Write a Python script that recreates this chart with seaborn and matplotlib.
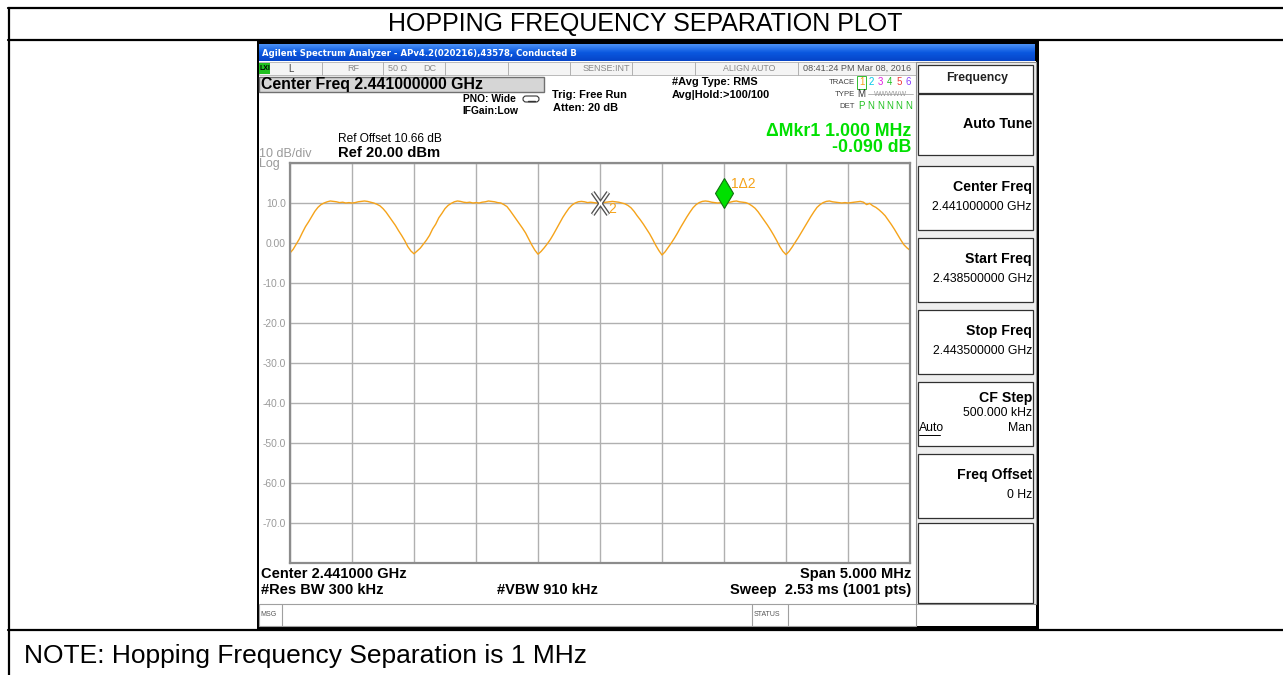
import numpy as np
import pandas as pd
import matplotlib
matplotlib.use("Agg")
import matplotlib.pyplot as plt
import matplotlib.patches as mpatches
import matplotlib.transforms as mtransforms
from matplotlib.path import Path
import seaborn as sns

# sweep settings
START_GHZ = 2.4385
STOP_GHZ = 2.4435
REF_DBM = 20.0
DB_PER_DIV = 10.0

# trace 1 (dBm), read every 25 kHz, one hop channel per list
hump_1 = [-2.5, -1.6, -0.3, 1.0, 2.6, 4.1, 5.3, 6.6, 7.9, 8.9,
          9.6, 10.0, 10.3, 10.5, 10.4, 10.3, 10.1, 10.2, 10.0, 10.1,
          10.0, 10.1, 10.3, 10.4, 10.5, 10.4, 10.2, 10.0, 9.7, 9.3,
          8.6, 7.7, 6.6, 5.5, 4.4, 3.1, 1.9, 0.6, -0.9, -2.0]
hump_2 = [-2.7, -2.0, -1.3, -0.3, 0.7, 1.9, 3.5, 4.7, 6.3, 7.4,
          8.6, 9.4, 9.9, 10.3, 10.5, 10.4, 10.2, 10.1, 10.2, 10.0,
          10.1, 10.0, 10.2, 10.3, 10.5, 10.4, 10.3, 10.1, 10.0, 9.6,
          9.1, 8.1, 7.0, 5.9, 4.8, 3.7, 2.5, 1.0, -0.5, -1.8]
hump_3 = [-2.8, -2.1, -1.2, -0.2, 0.9, 2.2, 3.6, 5.0, 6.4, 7.6,
          8.7, 9.5, 10.0, 10.3, 10.4, 10.3, 10.1, 10.2, 10.1, 10.0,
          10.1, 10.1, 10.2, 10.3, 10.4, 10.3, 10.2, 10.0, 9.8, 9.4,
          8.8, 7.9, 6.8, 5.8, 4.7, 3.5, 2.3, 0.9, -0.6, -1.9]
hump_4 = [-3.0, -2.2, -1.1, 0.0, 1.2, 2.5, 3.9, 5.2, 6.5, 7.7,
          8.8, 9.6, 10.1, 10.4, 10.5, 10.4, 10.2, 10.1, 10.0, 10.1,
          10.0, 10.0, 10.2, 10.4, 10.5, 10.3, 10.2, 10.1, 9.8, 9.3,
          8.7, 7.8, 6.7, 5.6, 4.5, 3.3, 2.0, 0.6, -0.9, -2.1]
hump_5 = [-2.9, -2.1, -1.0, 0.2, 1.4, 2.7, 4.0, 5.3, 6.6, 7.8,
          8.9, 9.6, 10.1, 10.4, 10.5, 10.3, 10.2, 10.1, 10.0, 10.1,
          10.0, 10.1, 10.2, 10.3, 10.4, 10.2, 9.6, 9.9, 9.3, 8.9,
          8.3, 7.6, 6.8, 5.7, 4.6, 3.4, 2.1, 0.8, -0.4, -1.2, -1.8]
trace_dbm = hump_1 + hump_2 + hump_3 + hump_4 + hump_5

# marker 1 (delta) and marker 2 (reference)
marker_freqs = [2.442, 2.441]
y_tick_values = [20, 10, 0, -10, -20, -30, -40, -50, -60, -70, -80]
y_tick_labels = ["", "10.0", "0.00", "-10.0", "-20.0", "-30.0", "-40.0",
                 "-50.0", "-60.0", "-70.0", ""]

softkeys = [("Center Freq", "2.441000000 GHz"),
            ("Start Freq", "2.438500000 GHz"),
            ("Stop Freq", "2.443500000 GHz"),
            ("CF Step", "500.000 kHz"),
            ("Freq Offset", "0 Hz")]

TRACE_COL = "#f5a31a"
MKR_GREEN = "#00e000"
GRAY_TXT = "#9a9a9a"

sns.set_theme(style="white")
plt.rcParams["font.family"] = ["Liberation Sans", "DejaVu Sans"]

W, H = 1283, 675
fig = plt.figure(figsize=(W / 100, H / 100), dpi=100)
bg = fig.add_axes([0, 0, 1, 1])
bg.set_xlim(0, W)
bg.set_ylim(H, 0)
bg.axis("off")


def box(x0, y0, x1, y1, fc="white", ec="none", lw=0.0, z=1):
    bg.add_patch(mpatches.Rectangle((x0, y0), x1 - x0, y1 - y0, facecolor=fc,
                                    edgecolor=ec, linewidth=lw, zorder=z))


def txt(x, y, s, size, ha="left", color="black", weight="normal", family=None, z=5):
    bg.text(x, y, s, fontsize=size, ha=ha, va="center", color=color,
            fontweight=weight, family=family or ["Liberation Sans", "DejaVu Sans"],
            zorder=z)


# outer report table
LW = 1.6
bg.plot([8, W], [8, 8], color="black", lw=LW)
bg.plot([8, W], [40, 40], color="black", lw=LW)
bg.plot([8, W], [630, 630], color="black", lw=LW)
bg.plot([9, 9], [8, H], color="black", lw=LW)
txt(645, 24, "HOPPING FREQUENCY SEPARATION PLOT", 18)
bg.texts[-1].set_ha("center")
txt(24, 656, "NOTE: Hopping Frequency Separation is 1 MHz", 19)

# analyzer screenshot frame
box(257, 41, 1039, 630, fc="black", z=1)
grad = np.linspace(0, 1, 20).reshape(-1, 1)
bar_cmap = matplotlib.colors.LinearSegmentedColormap.from_list(
    "bar", ["#4a90f5", "#0a58e0", "#0645c8"])
bg.imshow(grad, extent=(259, 1035, 61, 44), cmap=bar_cmap, aspect="auto", zorder=2)
txt(262, 53, "Agilent Spectrum Analyzer - APv4.2(020216),43578, Conducted B", 6.1,
    color="white", weight="bold", family=["DejaVu Sans"], z=3)
box(259, 61, 1036, 626, fc="white", z=2)

# status row
box(259, 62, 916, 75, fc="#f4f4f4", ec="#b0b0b0", lw=0.6, z=3)
for xs in [322, 383, 445, 508, 570, 632, 695, 798]:
    bg.plot([xs, xs], [62, 75], color="#b0b0b0", lw=0.7, zorder=4)
box(259, 63, 270, 74, fc="#20c020", z=4)
txt(260, 68.5, "LXI", 5, weight="bold", z=5)
txt(288, 68.5, "L", 7, color="#444444")
txt(347, 68.5, "RF", 6.5, color="#888888")
txt(388, 68.5, "50 \u03a9", 6.5, color="#888888")
txt(423, 68.5, "DC", 6.5, color="#888888")
txt(630, 68.5, "SENSE:INT", 6.5, ha="right", color="#888888")
txt(723, 68.5, "ALIGN AUTO", 6.3, color="#888888")
txt(803, 68.5, "08:41:24 PM Mar 08, 2016", 6.6, color="#555555")

# settings header
box(259, 77, 544, 92, fc="#d6d6d6", ec="#707070", lw=1.0, z=3)
txt(261, 84.5, "Center Freq 2.441000000 GHz", 11.4, weight="bold")
txt(463, 99, "PNO: Wide", 7.4, weight="bold")
txt(462, 111, "IFGain:Low", 7.4, weight="bold")
bg.add_patch(mpatches.FancyBboxPatch((523, 96), 16, 6, boxstyle="round,pad=0,rounding_size=3",
                                     fc="white", ec="#333333", lw=0.8, zorder=4))
bg.plot([528, 535], [101, 101], color="#333333", lw=1.0, zorder=5)
txt(552, 95, "Trig: Free Run", 7.9, weight="bold")
txt(553, 108, "Atten: 20 dB", 7.9, weight="bold")
txt(672, 82, "#Avg Type: RMS", 7.9, weight="bold")
txt(672, 95, "Avg|Hold:>100/100", 7.9, weight="bold")

# trace legend block
txt(855, 82, "TRACE", 5.6, ha="right", color="#444444")
txt(855, 94, "TYPE", 5.6, ha="right", color="#444444")
txt(855, 106, "DET", 5.6, ha="right", color="#444444")
box(857, 76, 866, 89, fc="white", ec="#30c030", lw=0.7, z=4)
trace_cols = [TRACE_COL, "#00c8e8", "#e020e0", "#20c020", "#f03838", "#8a40ff"]
for i, c in enumerate(trace_cols):
    txt(861.5 + i * 9.4, 82, str(i + 1), 7, ha="center", color=c)
txt(861.5, 94, "M", 7, ha="center", color="#333333")
txt(891, 94, "WWWWW", 5, ha="center", color="#999999")
bg.plot([868, 913], [94, 94], color="#999999", lw=0.5, zorder=6)
for i, s in enumerate(["P", "N", "N", "N", "N", "N"]):
    txt(861.5 + i * 9.4, 106, s, 7, ha="center", color="#20c020")

# marker readout and reference
txt(911, 131, "\u0394Mkr1 1.000 MHz", 12.8, ha="right", color=MKR_GREEN, weight="bold")
txt(911, 148, "-0.090 dB", 12.8, ha="right", color=MKR_GREEN, weight="bold")
txt(338, 139, "Ref Offset 10.66 dB", 8.6)
txt(338, 153, "Ref 20.00 dBm", 10.6, weight="bold")
txt(259, 154, "10 dB/div", 9, color=GRAY_TXT)
txt(259, 164, "Log", 9, color=GRAY_TXT)

# bottom annotations
txt(261, 574, "Center 2.441000 GHz", 10.5, weight="bold")
txt(911, 574, "Span 5.000 MHz", 10.5, ha="right", weight="bold")
txt(261, 590, "#Res BW 300 kHz", 10.5, weight="bold")
txt(497, 590, "#VBW 910 kHz", 10.5, weight="bold")
txt(911, 590, "Sweep  2.53 ms (1001 pts)", 10.5, ha="right", weight="bold")

# message bar
box(259, 604, 916, 626, fc="white", ec="#a0a0a0", lw=0.8, z=3)
for xs in [282, 752, 788]:
    bg.plot([xs, xs], [604, 626], color="#a0a0a0", lw=0.8, zorder=4)
txt(260, 614, "MSG", 5, color="#555555")
txt(754, 614, "STATUS", 5, color="#555555")

# softkey panel
box(916, 62, 1036, 604, fc="#eeeeee", ec="#909090", lw=0.8, z=3)
box(918, 65, 1033, 93, fc="white", ec="#303030", lw=0.9, z=4)
txt(977, 78, "Frequency", 8.8, ha="center", weight="bold", color="#222222")
box(918, 94, 1033, 155, fc="white", ec="#303030", lw=0.9, z=4)
txt(1032, 124, "Auto Tune", 10.3, ha="right", weight="bold")
key_tops = [166, 238, 310, 382, 454]
for (title, val), top in zip(softkeys, key_tops):
    box(918, top, 1033, top + 64, fc="white", ec="#303030", lw=0.9, z=4)
    if title == "CF Step":
        txt(1032, top + 16, title, 10.2, ha="right", weight="bold")
        txt(1032, top + 31, val, 8.8, ha="right")
        txt(919, top + 46, "Auto", 8.8)
        bg.plot([919, 940], [top + 53, top + 53], color="black", lw=0.7, zorder=6)
        txt(1032, top + 46, "Man", 8.8, ha="right")
    else:
        txt(1032, top + 21, title, 10.2, ha="right", weight="bold")
        txt(1032, top + 41, val, 8.8, ha="right")
box(918, 523, 1033, 603, fc="white", ec="#303030", lw=0.9, z=4)

# spectrum plot
ax = fig.add_axes([290 / W, 1 - 563 / H, 620 / W, 400 / H])
ax.set_zorder(10)
freq_ghz = np.linspace(START_GHZ, STOP_GHZ, len(trace_dbm))
df = pd.DataFrame({"freq": freq_ghz, "dbm": trace_dbm})
sns.lineplot(data=df, x="freq", y="dbm", ax=ax, color=TRACE_COL, linewidth=1.0)

ax.set_xlim(START_GHZ, STOP_GHZ)
ax.set_ylim(REF_DBM - 10 * DB_PER_DIV, REF_DBM)
ax.set_xticks(np.linspace(START_GHZ, STOP_GHZ, 11))
ax.set_xticklabels([])
ax.set_yticks(y_tick_values)
ax.set_yticklabels(y_tick_labels)
ax.tick_params(axis="y", length=0, pad=3, labelsize=7.4, labelcolor=GRAY_TXT)
ax.tick_params(axis="x", length=0)
ax.grid(True, color="#b0b0b0", linewidth=1.0)
ax.set_facecolor("white")
ax.set_xlabel("")
ax.set_ylabel("")
for sp in ax.spines.values():
    sp.set_visible(True)
    sp.set_color("#8c8c8c")
    sp.set_linewidth(1.6)

# markers
m_vals = np.interp(marker_freqs, freq_ghz, trace_dbm)
x_mark = Path([(-0.35, -0.5), (0.35, 0.5), (-0.35, 0.5), (0.35, -0.5)],
              [Path.MOVETO, Path.LINETO, Path.MOVETO, Path.LINETO])
ax.plot(marker_freqs[1], m_vals[1], marker=x_mark, markersize=16, mew=3.2,
        color="#505050", zorder=5)
ax.plot(marker_freqs[1], m_vals[1], marker=x_mark, markersize=16, mew=1.3,
        color="white", zorder=6)
ax.annotate("2", (marker_freqs[1], m_vals[1]), xytext=(6, -4.5), textcoords="offset points",
            color=TRACE_COL, fontsize=10, ha="left", va="center", zorder=7)
up = mtransforms.offset_copy(ax.transData, fig=fig, x=0, y=10, units="dots")
ax.plot(marker_freqs[0], m_vals[0], marker="d", markersize=15, color=MKR_GREEN,
        markeredgecolor="#107010", mew=0.8, transform=up, zorder=7)
ax.annotate("1\u03942", (marker_freqs[0], m_vals[0]), xytext=(5, 13.5), textcoords="offset points",
            color=TRACE_COL, fontsize=10, ha="left", va="center", zorder=7)

fig.savefig("out.png", dpi=100)
